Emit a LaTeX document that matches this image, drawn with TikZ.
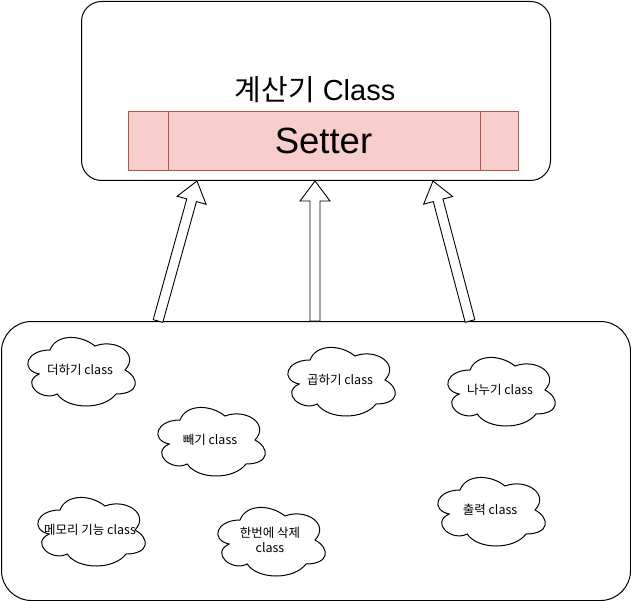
\documentclass[tikz,border=0pt]{standalone}
\usepackage{fontspec}
\setmainfont{Liberation Sans}
\newfontfamily\kr{Noto Sans CJK KR}
\usetikzlibrary{calc}
\definecolor{setfill}{HTML}{F8CECC}
\definecolor{setdraw}{HTML}{B85450}
\newcommand\blockarr[2]{%
  \coordinate (hb) at ($(#2)!20pt!(#1)$);
  \draw[blockarrow] ($(#1)!5pt!90:(#2)$) -- ($(hb)!5pt!-90:(#1)$) -- ($(hb)!15pt!-90:(#1)$)
    -- (#2) -- ($(hb)!15pt!90:(#1)$) -- ($(hb)!5pt!90:(#1)$) -- ($(#1)!5pt!-90:(#2)$) -- cycle;}
\begin{document}
\begin{tikzpicture}[x=1pt,y=-1pt,line width=1pt,
  box/.style={draw=black,fill=white,inner sep=0pt,anchor=north west},
  ctext/.style={font=\kr\fontsize{12.5}{15}\selectfont,align=center,inner sep=0pt},
  blockarrow/.style={draw=black,fill=white,line width=0.9pt,line join=miter},
  cloudpic/.pic={\draw[line width=1pt,fill=white]
    (30,20) .. controls (6,20) and (0,40) .. (19.2,44)
    .. controls (0,52.8) and (21.6,72) .. (37.2,64)
    .. controls (48,80) and (84,80) .. (96,64)
    .. controls (120,64) and (120,48) .. (105,40)
    .. controls (120,24) and (96,8) .. (75,16)
    .. controls (60,4) and (36,4) .. (30,20) -- cycle;}]
\useasboundingbox (0,0) rectangle (631,601);
% top class box
\node[box,rounded corners=20pt,minimum width=469pt,minimum height=179pt] (top) at (81,1) {};
\node[inner sep=0pt,font=\fontsize{29}{32}\selectfont] (title) at (315,90) {{\kr 계산기} Class};
\node[box,draw=setdraw,fill=setfill,minimum width=390pt,minimum height=59pt] (setter) at (128,111) {};
\node[inner sep=0pt,font=\fontsize{36.5}{40}\selectfont] (settertext) at (323.5,140.5) {Setter};
\draw[setdraw] ($(setter.north west)+(40,0)$) -- ($(setter.south west)+(40,0)$);
\draw[setdraw] ($(setter.north east)+(-39,0)$) -- ($(setter.south east)+(-39,0)$);
% bottom box
\node[box,rounded corners=30pt,minimum width=629pt,minimum height=279pt] (bot) at (1,321) {};
% arrows
\coordinate (t1) at (158,321); \coordinate (h1) at (197,181);
\coordinate (t2) at (315,321); \coordinate (h2) at (315,181);
\coordinate (t3) at (470,321); \coordinate (h3) at (433,181);
\blockarr{t1}{h1}
\blockarr{t2}{h2}
\blockarr{t3}{h3}
% clouds
\pic at (20,330) {cloudpic};
\node[ctext] (c1) at (80,370) {더하기 class};
\pic at (150,400) {cloudpic};
\node[ctext] (c2) at (210,440) {빼기 class};
\pic at (280,340) {cloudpic};
\node[ctext] (c3) at (340,380) {곱하기 class};
\pic at (440,350) {cloudpic};
\node[ctext] (c4) at (500,390) {나누기 class};
\pic at (30,490) {cloudpic};
\node[ctext] (c5) at (90,530) {메모리 기능 class};
\pic at (210,500) {cloudpic};
\node[ctext] (c6) at (270,540) {한번에 삭제\\class};
\pic at (430,470) {cloudpic};
\node[ctext] (c7) at (490,510) {출력 class};
\end{tikzpicture}
\end{document}
